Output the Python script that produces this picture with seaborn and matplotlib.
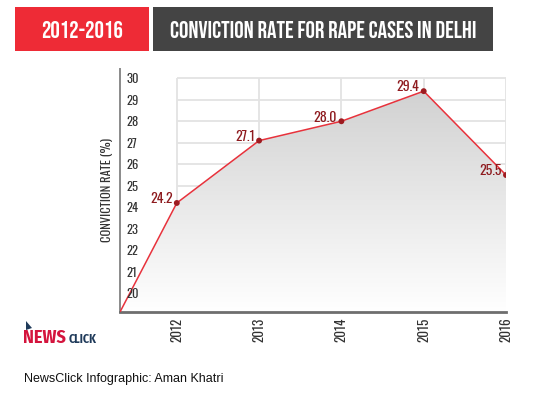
import numpy as np
import pandas as pd
import matplotlib
matplotlib.use("Agg")
import matplotlib.pyplot as plt
from matplotlib.patches import Rectangle, Polygon
import seaborn as sns

years = [2012, 2013, 2014, 2015, 2016]
rates = [24.2, 27.1, 28.0, 29.4, 25.5]
y_ticks = list(range(20, 31))

df = pd.DataFrame({"year": years, "rate": rates})

sns.set_theme(style="white")
COND = ['Oswald', 'Barlow Condensed', 'DejaVu Sans']
HEAD = ['Bebas Neue', 'Oswald', 'DejaVu Sans']
plt.rcParams['font.family'] = COND

W, H = 533, 399
fig = plt.figure(figsize=(W / 100, H / 100), dpi=100, facecolor='white')

def px_box(x0, y0, x1, y1):
    return [x0 / W, 1 - y1 / H, (x1 - x0) / W, (y1 - y0) / H]

ax = fig.add_axes(px_box(120, 69, 506, 312))
xmin, xmax = 2011.31, 2016
ymin, ymax = 19.13, 30.43
ax.set_xlim(xmin, xmax)
ax.set_ylim(ymin, ymax)

# grid box from 2012 to 2016
ax.hlines(y_ticks, years[0], years[-1], color='#e3e3e3', lw=1.3, zorder=0)
ax.vlines(years, ymin, y_ticks[-1], color='#e3e3e3', lw=1.3, zorder=0)

# line starts at the axis origin
xs = [xmin] + years
ys = [ymin] + rates

# gradient fill under the line
img = ax.imshow(np.linspace(0, 1, 256).reshape(-1, 1), extent=[xmin, xmax, ymin, ymax],
                aspect='auto', origin='lower', zorder=1,
                cmap=matplotlib.colors.LinearSegmentedColormap.from_list('g', ['#ffffff', '#cdcdcd']))
poly = Polygon(list(zip(xs, ys)) + [(xmax, ymin), (xmin, ymin)], closed=True,
               transform=ax.transData, facecolor='none', edgecolor='none')
ax.add_patch(poly)
img.set_clip_path(poly)

line_df = pd.DataFrame({"x": xs, "y": ys})
sns.lineplot(data=line_df, x="x", y="y", ax=ax, color='#e8323c', lw=1.1, zorder=3)
sns.scatterplot(data=df, x="year", y="rate", ax=ax, color='#9e1b20', s=18,
                edgecolor='none', zorder=4)

for x, y in zip(years, rates):
    ax.annotate(f"{y:.1f}", (x, y), xytext=(-3, 3), textcoords='offset points',
                ha='right', va='center', color='#8e1a1e', fontsize=10,
                fontweight='semibold')

ax.set_xticks(years)
ax.set_xticklabels([str(y) for y in years], rotation=90, fontsize=9.5,
                   fontweight='semibold', color='#333333')
ax.set_yticks(y_ticks)
ax.set_yticklabels([str(t) for t in y_ticks], fontsize=9, fontweight='medium',
                   color='#333333')
for lab in ax.get_yticklabels():
    lab.set_horizontalalignment('left')
ax.tick_params(axis='y', length=0, pad=-5)
ax.tick_params(axis='x', length=0, pad=4)
ax.yaxis.set_zorder(5)
ax.set_xlabel("")
ax.set_ylabel("CONVICTION RATE (%)", fontsize=9, fontweight='semibold',
              color='#333333', labelpad=6)

for s in ['top', 'right']:
    ax.spines[s].set_visible(False)
ax.spines['left'].set_color('#8a8a8a')
ax.spines['left'].set_linewidth(1.4)
ax.spines['bottom'].set_color('#6e6e6e')
ax.spines['bottom'].set_linewidth(2)

# header boxes
b = px_box(15, 7, 149, 51)
fig.patches.append(Rectangle((b[0], b[1]), b[2], b[3], transform=fig.transFigure,
                             facecolor='#ee2b36', edgecolor='none'))
b2 = px_box(153, 7, 493, 51)
fig.patches.append(Rectangle((b2[0], b2[1]), b2[2], b2[3], transform=fig.transFigure,
                             facecolor='#444444', edgecolor='none'))
fig.text(b[0] + b[2] / 2, b[1] + b[3] / 2, "2012-2016", color='white', family=HEAD,
         fontsize=17, ha='center', va='center_baseline')
fig.text(b2[0] + b2[2] / 2, b2[1] + b2[3] / 2, "CONVICTION RATE FOR RAPE CASES IN DELHI",
         color='white', family=HEAD, fontsize=17, ha='center', va='center_baseline')

# logo and credit
flag = Polygon([(26 / W, 1 - 321 / H), (32 / W, 1 - 328 / H), (26 / W, 1 - 330 / H)],
               closed=True, transform=fig.transFigure, facecolor='#1f3a5a', edgecolor='none')
fig.patches.append(flag)
fig.text(23 / W, 1 - 343 / H, "NEWS", color='#d4143d', fontsize=13,
         fontweight='bold', family='Fira Sans Condensed', ha='left', va='baseline')
fig.text(69 / W, 1 - 343 / H, "CLICK", color='#1f3a5a', fontsize=8.5,
         fontweight='bold', family='Fira Sans Condensed', ha='left', va='baseline')
fig.text(24 / W, 1 - 382 / H, "NewsClick Infographic: Aman Khatri", color='#111111',
         fontsize=9, family='Liberation Sans', ha='left', va='baseline')

fig.savefig("out.png", dpi=100, facecolor='white')
